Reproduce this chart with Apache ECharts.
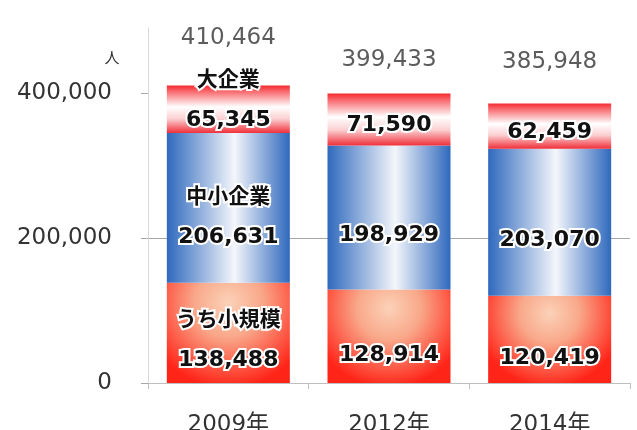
<!DOCTYPE html>
<html>
<head>
<meta charset="utf-8">
<script src="https://cdn.jsdelivr.net/npm/echarts@6/dist/echarts.min.js"></script>
<style>
  html, body { margin: 0; padding: 0; background: #fff; }
  #chart { width: 637px; height: 430px; }
</style>
</head>
<body>
<div id="chart"></div>
<script>
    // 従業者数の推移
    let years = ['2009年', '2012年', '2014年']
    let small = [138488, 128914, 120419]      // うち小規模
    let sme = [206631, 198929, 203070]        // 中小企業
    let large = [65345, 71590, 62459]         // 大企業
    let totals = [410464, 399433, 385948]
    let yTicks = [0, 200000, 400000]

    // label gaps above the bars for the totals (layout only)
    let totalGap = [36, 22, 29]

    let fmt = function (v) { return Number(v).toLocaleString('en-US') }
    let numFont = 'DejaVu Sans, Noto Sans CJK JP, sans-serif'
    let jpFont = 'Noto Sans CJK JP, DejaVu Sans, sans-serif'

    let barLabel = {
        show: true,
        position: 'inside',
        fontFamily: numFont,
        fontSize: 22,
        fontWeight: 'bold',
        color: '#111',
        textBorderColor: '#fff',
        textBorderWidth: 4,
        rich: {
            n: { fontFamily: jpFont, fontSize: 21, fontWeight: 'bold', color: '#111',
                 textBorderColor: '#fff', textBorderWidth: 4, lineHeight: 42 },
            v: { fontFamily: numFont, fontSize: 22, fontWeight: 'bold', color: '#111',
                 textBorderColor: '#fff', textBorderWidth: 4, lineHeight: 42 }
        }
    }

    function makeItems(values, name, offset, firstOffset) {
        return values.map(function (v, i) {
            if (i === 0) {
                return {
                    value: v,
                    label: {
                        formatter: '{n|' + name + '}\n{v|' + fmt(v) + '}',
                        offset: [0, firstOffset]
                    }
                }
            }
            return { value: v, label: { formatter: fmt(v), offset: [0, offset] } }
        })
    }

    let chart = echarts.init(document.getElementById('chart'))
    chart.setOption({
        animation: false,
        grid: { left: 148, right: 7, top: 28, bottom: 47, outerBoundsMode: 'none', containLabel: false },
        graphic: [{
            type: 'text',
            x: 112, y: 57,
            style: { text: '人', fontFamily: jpFont, fontSize: 15, fill: '#333',
                     textAlign: 'center', textVerticalAlign: 'middle' }
        }],
        xAxis: {
            type: 'category',
            data: years,
            axisLine: { lineStyle: { color: '#bfbfbf', width: 1 } },
            axisTick: { show: true, length: 6, lineStyle: { color: '#bfbfbf' } },
            axisLabel: { color: '#333', fontFamily: numFont, fontSize: 23, margin: 31 }
        },
        yAxis: {
            type: 'value',
            min: 0,
            max: 490000,
            interval: 200000,
            axisLine: { show: true, lineStyle: { color: '#d9d9d9', width: 1 } },
            axisTick: { show: true, length: 7, customValues: yTicks, lineStyle: { color: '#a6a6a6' } },
            axisLabel: {
                color: '#333', fontFamily: numFont, fontSize: 23, margin: 36,
                customValues: yTicks,
                formatter: fmt
            },
            splitLine: { show: true, showMaxLine: false, lineStyle: { color: '#a6a6a6', width: 1 } }
        },
        series: [
            {
                name: 'うち小規模',
                type: 'bar',
                stack: 'all',
                barWidth: 123,
                itemStyle: {
                    color: {
                        type: 'radial', x: 0.5, y: 0.2, r: 0.85,
                        colorStops: [
                            { offset: 0, color: '#fbd2b8' },
                            { offset: 0.4, color: '#f9a88a' },
                            { offset: 1, color: '#ff2418' }
                        ]
                    }
                },
                label: barLabel,
                data: makeItems(small, 'うち小規模', 19, 6)
            },
            {
                name: '中小企業',
                type: 'bar',
                stack: 'all',
                itemStyle: {
                    color: {
                        type: 'linear', x: 0, y: 0, x2: 1, y2: 0,
                        colorStops: [
                            { offset: 0, color: '#2f69bd' },
                            { offset: 0.55, color: '#f4f6fb' },
                            { offset: 1, color: '#2f69bd' }
                        ]
                    }
                },
                label: barLabel,
                data: makeItems(sme, '中小企業', 18, 8)
            },
            {
                name: '大企業',
                type: 'bar',
                stack: 'all',
                itemStyle: {
                    color: {
                        type: 'linear', x: 0, y: 0, x2: 0, y2: 1,
                        colorStops: [
                            { offset: 0, color: '#f52a30' },
                            { offset: 0.12, color: '#f8686c' },
                            { offset: 0.45, color: '#ffffff' },
                            { offset: 0.7, color: '#fbd0d2' },
                            { offset: 1, color: '#f0303a' }
                        ]
                    }
                },
                label: barLabel,
                data: makeItems(large, '大企業', 6, -10)
            },
            {
                name: '合計',
                type: 'scatter',
                symbolSize: 1,
                itemStyle: { color: 'transparent' },
                label: {
                    show: true,
                    position: 'top',
                    color: '#333',
                    fontFamily: numFont,
                    fontSize: 23,
                    formatter: function (p) { return fmt(p.value) }
                },
                data: totals.map(function (v, i) {
                    return { value: v, label: { distance: totalGap[i] } }
                })
            }
        ]
    })
</script>
</body>
</html>
